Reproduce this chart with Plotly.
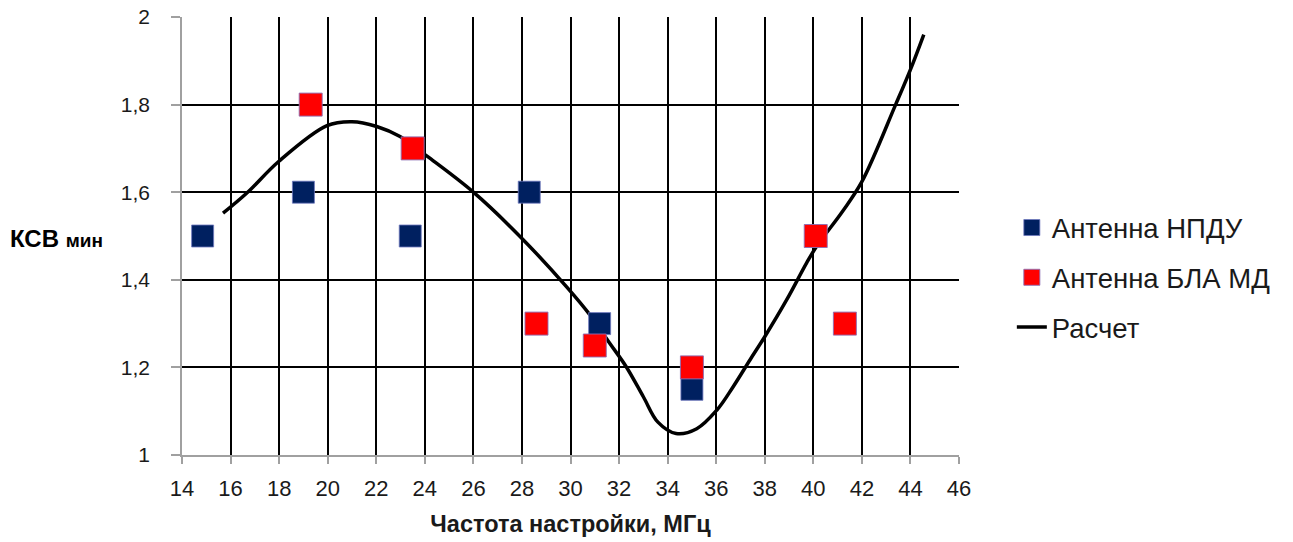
import plotly.graph_objects as go

# Measured minimum VSWR vs tuning frequency
npdu_freq = [14.85, 19.0, 23.4, 28.3, 31.2, 35.0]
npdu_vswr = [1.5, 1.6, 1.5, 1.6, 1.3, 1.15]

bla_freq = [19.3, 23.5, 28.6, 31.0, 35.0, 40.1, 41.3]
bla_vswr = [1.8, 1.7, 1.3, 1.25, 1.2, 1.5, 1.3]

# Calculated curve
calc_freq = [15.69, 16.67, 17.98, 19.97, 21.0, 22.02, 22.98, 24.12, 26.0, 27.92,
             29.84, 30.8, 31.63, 32.3, 33.0, 33.6, 34.35, 35.2, 36.02,
             36.7, 37.39, 38.0, 38.9, 39.72, 40.13, 41.2, 42.0, 43.39, 44.0, 44.55]
calc_vswr = [1.552, 1.598, 1.670, 1.752, 1.761, 1.750, 1.727, 1.681, 1.600, 1.499,
             1.384, 1.320, 1.254, 1.201, 1.133, 1.075, 1.049, 1.060, 1.102,
             1.156, 1.217, 1.270, 1.354, 1.438, 1.476, 1.556, 1.624, 1.800, 1.880, 1.960]

x_ticks = list(range(14, 47, 2))
y_ticks = [1, 1.2, 1.4, 1.6, 1.8, 2]
y_tick_text = ["1", "1,2", "1,4", "1,6", "1,8", "2"]

FONT = "Liberation Sans, Arial"
NARROW = "Liberation Sans Narrow, Liberation Sans, Arial"
TXT = "#1a1a1a"

fig = go.Figure()

fig.add_trace(go.Scatter(
    x=calc_freq, y=calc_vswr, mode="lines", name="Расчет",
    line=dict(color="black", width=3.5, shape="spline", smoothing=1.0),
    legendgroup="c", legendrank=3,
))
fig.add_trace(go.Scatter(
    x=npdu_freq, y=npdu_vswr, mode="markers", name="Антенна НПДУ",
    marker=dict(symbol="square", size=22, color="#002060",
                line=dict(color="rgba(110,120,190,0.8)", width=1)),
    legendgroup="a", legendrank=1,
))
fig.add_trace(go.Scatter(
    x=bla_freq, y=bla_vswr, mode="markers", name="Антенна БЛА МД",
    marker=dict(symbol="square", size=23, color="#FF0000",
                line=dict(color="rgba(140,110,180,0.9)", width=1)),
    legendgroup="b", legendrank=2,
))

fig.update_xaxes(
    range=[14, 46], tickvals=x_ticks, showgrid=True, gridcolor="black", gridwidth=1.5,
    showline=True, linecolor="#a0a0a0", linewidth=1.5,
    ticks="outside", ticklen=7, tickcolor="#a0a0a0", tickwidth=1.5,
    tickfont=dict(family=FONT, size=22, color=TXT), zeroline=False,
    ticklabelstandoff=6, automargin=False,
    title=dict(text="<b>Частота настройки, МГц</b>",
               font=dict(family=NARROW, size=23.5, color=TXT), standoff=15),
)
fig.update_yaxes(
    range=[1, 2], tickvals=y_ticks, ticktext=y_tick_text,
    showgrid=True, gridcolor="black", gridwidth=1.5,
    showline=True, linecolor="#a0a0a0", linewidth=1.5,
    ticks="outside", ticklen=9, tickcolor="#a0a0a0", tickwidth=1.5,
    tickfont=dict(family=FONT, size=21, color=TXT), zeroline=False,
    ticklabelstandoff=17, automargin=False,
)

fig.add_annotation(
    text="<b>КСВ <span style='font-size:19px'>мин</span></b>",
    xref="paper", yref="paper", x=-0.224, y=0.495, xanchor="left", yanchor="middle",
    showarrow=False, font=dict(family=FONT, size=24, color="black"),
)

fig.update_layout(
    width=1293, height=542,
    margin=dict(l=182, r=334, t=17, b=87),
    paper_bgcolor="white", plot_bgcolor="white",
    showlegend=True,
    legend=dict(x=1.068, y=0.575, xanchor="left", yanchor="top",
                traceorder="grouped", tracegroupgap=11,
                font=dict(family=FONT, size=27.5, color=TXT),
                bgcolor="rgba(0,0,0,0)"),
)

fig.write_html("out.html")
